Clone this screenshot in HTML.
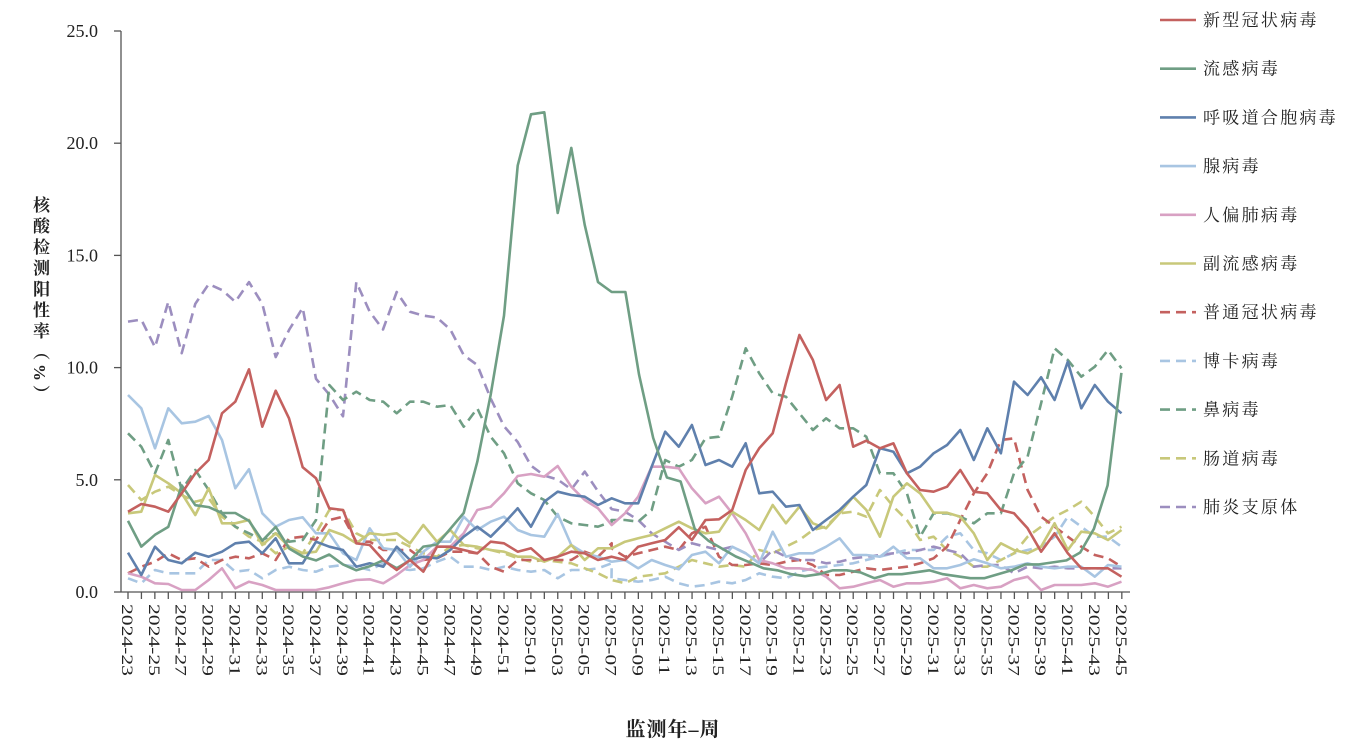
<!DOCTYPE html>
<html><head><meta charset="utf-8">
<style>
html,body{margin:0;padding:0;background:#fff;}
body{width:1350px;height:754px;position:relative;overflow:hidden;font-family:"Liberation Serif","Noto Serif CJK SC",serif;}
.yt{position:absolute;left:27px;top:196px;writing-mode:vertical-rl;font-size:17px;letter-spacing:4px;color:#222;font-family:"Liberation Serif","Noto Serif CJK SC",serif;font-weight:bold;}
</style></head><body>
<svg id="s" width="1350" height="754" style="position:absolute;left:0;top:0" xmlns="http://www.w3.org/2000/svg">
<g id="axes" stroke="#555" stroke-width="1.3" fill="none"></g>
<g id="series" fill="none" stroke-width="2.6" stroke-linejoin="round"></g>
<g id="txt" font-family="Liberation Serif, Noto Serif CJK SC, serif" fill="#222"></g>
<text x="673" y="736" text-anchor="middle" font-size="20" font-family="Liberation Serif, Noto Serif CJK SC, serif" font-weight="bold" fill="#222" letter-spacing="1">监测年–周</text>
</svg>
<div class="yt">核酸检测阳性率（%）</div>
<script>
var NS="http://www.w3.org/2000/svg";
var ax=document.getElementById('axes'),tx=document.getElementById('txt'),se=document.getElementById('series');
function el(p,t,a){var e=document.createElementNS(NS,t);for(var k in a)e.setAttribute(k,a[k]);p.appendChild(e);return e;}
var X0=121,Y0=592,YT=31;
el(ax,'line',{x1:X0,y1:YT,x2:X0,y2:Y0});
el(ax,'line',{x1:X0,y1:Y0,x2:1130,y2:Y0});
for(var v=0;v<=5;v++){var y=Y0-(Y0-YT)*v/5;el(ax,'line',{x1:X0-7,y1:y,x2:X0,y2:y});
 var t=el(tx,'text',{x:98,y:y+6,'text-anchor':'end','font-size':18});t.textContent=(v*5).toFixed(1);}
var labs=[];for(var w=23;w<=52;w++)labs.push('2024-'+w);for(var w=1;w<=45;w++)labs.push('2025-'+(w<10?'0'+w:w));
for(var i=0;i<75;i++){var x=128+13.43*i;el(ax,'line',{x1:x,y1:Y0,x2:x,y2:Y0+7});
 if(i%2==0){var t=el(tx,'text',{transform:'translate('+(x-6)+',604) rotate(90) scale(1.35,1)','font-size':16});t.textContent=labs[i];}}
// frames
var F={A:[1/3,0.3948,100,-0.19],B:[1/3,1/3,120,360],C:[0.338,1/3,600,320],D:[0.343,0.3948,600,-0.19]};
function P(f,s){var a=F[f],n=s.trim().split(/\s*;\s*/),o=[];n.forEach(function(q){var c=q.split(',');o.push((a[2]+a[0]*+c[0]).toFixed(1)+','+(a[3]+a[1]*+c[1]).toFixed(1));});return o;}
function S(col,dash,parts){var pts=[];parts.forEach(function(p){pts=pts.concat(P(p[0],p[1]));});
 var a={points:pts.join(' '),stroke:col};if(dash)a['stroke-dasharray']='10,6';el(se,'polyline',a);}
var R='#c4615f',G='#6f9e84',B='#5f80ad',LB='#a8c5e2',PK='#d8a1c3',YG='#c8c87a',PU='#9c8ebf';
S(LB,1,[['B','24,655;64,670;105,630;145,640;185,640;226,640;266,600;306,600;346,635;387,630;427,655;467,630;507,620;548,630;588,635;628,620;669,615;709,620;749,630;790,610;830,625;870,630;910,625;951,605;991,590;1031,620;1072,620;1112,630;1152,620;1193,630;1233,635;1273,630;1313,655;1354,630;1394,630;1434,625;1475,610'],['C','34,775;74,780;113,785;153,780;193,770;233,790;272,800;312,795;352,785;391,790;431,780;471,760;511,770;550,775;590,755;630,745;669,740;709,735;749,730;788,720;828,710;868,700;908,690;947,690;987,690;1027,650;1066,640;1106,690;1146,700;1186,720;1225,700;1265,690;1305,680;1345,650;1384,590;1424,620;1464,650;1503,650;1543,680']]);
S(YG,1,[['B','24,375;64,420;105,395;145,380;185,405;226,425;266,415;306,470;346,500;387,530;427,545;467,580;507,560;548,580;588,520;628,450;669,450;709,520;749,540;790,540;830,540;870,560;910,580;951,590;991,560;1031,555;1072,565;1112,570;1152,580;1193,595;1233,605;1273,600;1313,605;1354,610;1394,625;1434,640;1475,660'],['C','34,780;74,790;113,770;153,765;193,760;233,740;272,720;312,730;352,740;391,735;431,740;471,690;511,700;550,680;590,660;630,630;669,620;709,580;749,575;788,590;828,510;868,560;908,600;947,660;987,650;1027,690;1066,710;1106,740;1146,740;1186,720;1225,700;1265,650;1305,620;1345,590;1384,570;1424,545;1464,590;1503,640;1543,620']]);
S(R,1,[['B','24,640;64,620;105,605;145,580;185,600;226,595;266,620;306,600;346,590;387,595;427,580;467,600;507,535;548,530;588,540;628,480;669,470;709,545;749,545;790,570;830,570;870,570;910,600;951,595;991,575;1031,575;1072,580;1112,620;1152,635;1193,600;1233,600;1273,600;1313,600;1354,600;1394,575;1434,590;1475,550'],['C','34,685;74,710;113,700;153,690;193,680;233,690;272,640;312,620;352,710;391,735;431,735;471,730;511,735;550,725;590,720;630,735;669,765;709,765;749,755;788,745;828,750;868,745;908,740;947,730;987,715;1027,680;1066,600;1106,520;1146,460;1186,360;1225,355;1265,510;1305,590;1345,620;1384,650;1424,680;1464,705;1503,715;1543,740']]);
S(PU,1,[['A','84,815;124,810;165,880;205,765;245,895;286,770;326,720;366,735;406,765;447,715;487,770;527,905;568,835;608,780;648,960;688,1000;729,1055;769,715;809,790;849,835;890,740;930,790;970,800;1011,805;1051,835;1091,900;1132,925;1172,1010;1212,1080;1253,1120;1293,1180;1333,1205;1373,1215;1414,1240;1454,1195;1494,1245;1535,1290'],['C','74,575;113,600;153,640;193,665;233,690;272,670;312,680;352,690;391,680;431,700;471,730;511,690;550,710;590,720;630,720;669,730;709,725;749,715;788,710;828,705;868,700;908,700;947,690;987,680;1027,690;1066,700;1106,740;1146,735;1186,735;1225,760;1265,740;1305,745;1345,740;1384,745;1424,745;1464,745;1503,745;1543,745']]);
S(G,1,[['B','24,220;64,260;105,340;145,240;185,390;226,330;266,390;306,460;346,500;387,520;427,540;467,520;507,545;548,540;588,480;628,75;669,120;709,95;749,120;790,125;830,160;870,125;910,125;951,140;991,135;1031,200;1072,145;1112,230;1152,280;1193,370;1233,400;1273,420;1313,470;1354,490;1394,495;1434,500;1475,485'],['C','34,600;74,600;113,605;153,570;193,420;233,440;272,420;312,355;352,350;391,230;431,85;471,160;511,220;550,230;590,280;630,330;669,295;709,325;749,325;788,350;828,460;868,460;908,520;947,650;987,580;1027,580;1066,590;1106,610;1146,580;1186,580;1225,460;1265,410;1305,250;1345,85;1384,120;1424,170;1464,140;1503,90;1543,145']]);
S(PK,0,[['B','24,640;64,650;105,670;145,672;185,690;226,690;266,660;306,625;346,685;387,665;427,675;467,690;507,690;548,690;588,690;628,682;669,670;709,660;749,658;790,670;830,645;870,615;910,600;951,560;991,560;1031,520;1072,450;1112,440;1152,400;1193,348;1233,342;1273,350;1313,318;1354,380;1394,420;1434,445;1475,495'],['C','74,580;113,530;153,440;193,440;233,445;272,505;312,550;352,530;391,580;431,640;471,720;511,730;550,745;590,745;630,750;669,770;709,805;749,800;788,790;828,780;868,800;908,790;947,790;987,785;1027,775;1066,805;1106,795;1146,805;1186,800;1225,780;1265,770;1305,810;1345,795;1384,795;1424,795;1464,790;1503,800;1543,785']]);
S(LB,0,[['B','24,105;64,145;105,265;145,145;185,190;226,185;266,168;306,240;346,385;387,328;427,460;467,500;507,480;548,472;588,520;628,520;669,580;709,600;749,505;790,565;830,570;870,620;910,575;951,545;991,545;1031,470;1072,510;1112,485;1152,470;1193,510;1233,525;1273,530;1313,462;1354,555;1394,580;1434,590;1475,605'],['C','74,720;113,745;153,720;193,735;233,748;272,705;312,695;352,730;391,680;431,700;471,730;511,635;550,710;590,700;630,700;669,680;709,655;749,705;788,705;828,710;868,680;908,715;947,715;987,745;1027,745;1066,735;1106,718;1146,730;1186,745;1225,740;1265,730;1305,740;1345,745;1384,740;1424,740;1464,770;1503,735;1543,740']]);
S(YG,0,[['B','24,460;64,455;105,345;145,370;185,400;226,465;266,385;306,490;346,490;387,480;427,555;467,520;507,560;548,580;588,575;628,510;669,525;709,550;749,520;790,525;830,520;870,550;910,495;951,545;991,510;1031,555;1072,560;1112,570;1152,575;1193,590;1233,590;1273,605;1313,590;1354,555;1394,600;1434,565;1475,565'],['C','74,665;113,655;153,645;193,625;233,605;272,625;312,640;352,635;391,575;431,600;471,630;511,555;550,610;590,560;630,610;669,625;709,580;749,530;788,570;828,650;868,530;908,490;947,520;987,578;1027,578;1066,590;1106,640;1146,720;1186,670;1225,690;1265,700;1305,680;1345,610;1384,690;1424,635;1464,640;1503,660;1543,630']]);
S(B,0,[['B','24,578;64,645;105,560;145,600;185,610;226,578;266,590;306,575;346,550;387,545;427,580;467,535;507,610;548,610;588,545;628,560;669,570;709,620;749,610;790,620;830,560;870,600;910,590;951,595;991,570;1031,530;1072,500;1112,530;1152,490;1193,445;1233,500;1273,425;1313,395;1354,405;1394,410;1434,435;1475,415'],['C','74,550;113,550;153,440;193,335;233,380;272,315;312,435;352,420;391,440;431,370;471,520;511,515;550,560;590,555;630,630;669,600;709,570;749,530;788,495;828,385;868,395;908,460;947,440;987,400;1027,375;1066,330;1106,420;1146,325;1186,400;1225,185;1265,225;1305,172;1345,240;1384,125;1424,265;1464,195;1503,245;1543,280']]);
S(G,0,[['A','84,1320;124,1385;165,1355;205,1335;245,1230;286,1280;326,1285;366,1300;406,1300;447,1320;487,1370;527,1335;568,1390;608,1410;648,1420;688,1405;729,1430;769,1445;809,1435;849,1420;890,1440;930,1420;970,1385;1011,1380;1051,1340;1091,1300;1132,1170;1172,1000;1212,800;1253,420;1293,290;1333,285;1373,540;1414,375;1454,570;1494,715;1535,740'],['D','74,740;114,950;155,1110;195,1210;235,1220;276,1340;316,1370;356,1390;396,1410;437,1425;477,1440;517,1445;558,1455;598,1460;638,1455;679,1445;719,1445;759,1450;800,1465;840,1455;880,1455;920,1450;960,1445;1000,1455;1040,1460;1080,1465;1120,1465;1160,1455;1200,1445;1240,1430;1280,1430;1320,1425;1360,1420;1400,1400;1440,1340;1480,1230;1520,945']]);
S(R,0,[['B','24,455;64,432;105,440;145,455;185,400;226,340;266,300;306,160;346,125;387,28;427,200;467,92;507,175;548,322;588,355;628,445;669,450;709,550;749,555;790,600;830,630;870,600;910,635;951,560;991,560;1031,570;1072,580;1112,545;1152,550;1193,575;1233,565;1273,600;1313,590;1354,575;1394,580;1434,600;1475,590'],['C','74,720;113,680;153,670;193,660;233,622;272,660;312,600;352,598;391,570;431,450;471,385;511,340;550,190;590,45;630,120;669,240;709,195;749,380;788,362;828,385;868,370;908,460;947,510;987,515;1027,500;1066,450;1106,515;1146,520;1186,570;1225,580;1265,625;1305,695;1345,640;1384,700;1424,745;1464,745;1503,745;1543,770']]);
// legend
var L=[['新型冠状病毒',R,0],['流感病毒',G,0],['呼吸道合胞病毒',B,0],['腺病毒',LB,0],['人偏肺病毒',PK,0],['副流感病毒',YG,0],['普通冠状病毒',R,1],['博卡病毒',LB,1],['鼻病毒',G,1],['肠道病毒',YG,1],['肺炎支原体',PU,1]];
L.forEach(function(l,k){var y=20+48.7*k;var a={x1:1160,y1:y,x2:1196,y2:y,stroke:l[1],'stroke-width':2.6};if(l[2])a['stroke-dasharray']='10,6';el(se,'line',a);
 var t=el(tx,'text',{x:1203,y:y+6,'font-size':17,'letter-spacing':2.3});t.textContent=l[0];});
</script>
</body></html>
